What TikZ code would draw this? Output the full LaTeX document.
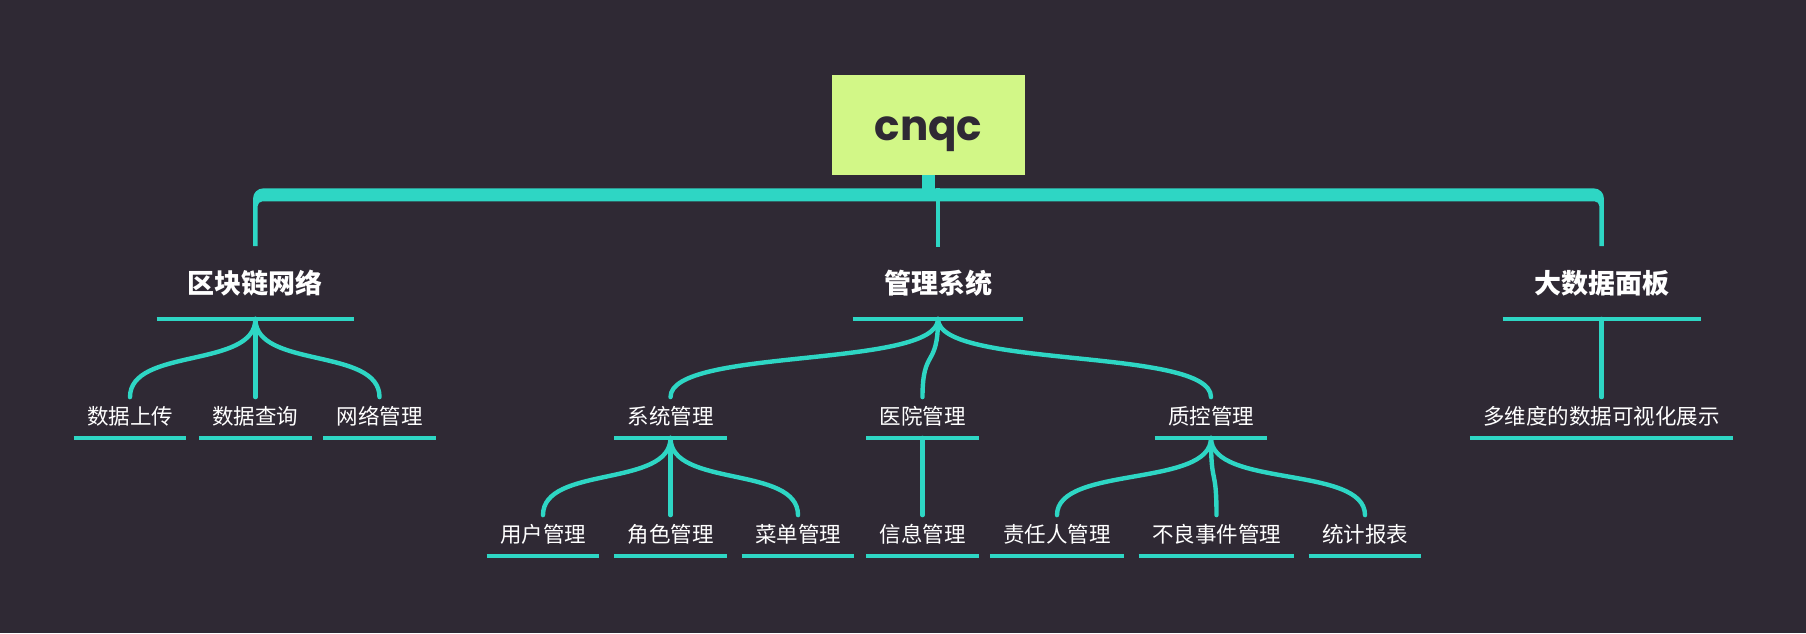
\documentclass[tikz,border=0pt]{standalone}
\usepackage{fontspec}
\newfontfamily\cjk{Noto Sans CJK SC}
\newfontfamily\popb{Poppins}
\usetikzlibrary{calc}
\definecolor{bg}{RGB}{47,41,52}
\definecolor{tl}{RGB}{46,214,196}
\definecolor{lg}{RGB}{210,247,135}
\begin{document}
\begin{tikzpicture}[x=0.5pt,y=-0.5pt,
  conn/.style={draw=tl, line width=2.2pt, line cap=round},
  uline/.style={draw=tl, line width=2.4pt},
  lvA/.style={font=\cjk\bfseries\fontsize{13.5pt}{14pt}\selectfont, text=white, inner xsep=15.5pt, inner ysep=0pt, minimum height=35pt, text height=11.9pt, text depth=1.6pt},
  lvB/.style={font=\cjk\fontsize{10.75pt}{12pt}\selectfont, text=white, inner xsep=6.5pt, inner ysep=0pt, minimum height=21.5pt, text height=9.46pt, text depth=1.29pt},
  rootbox/.style={fill=lg, minimum width=96.5pt, minimum height=50pt, inner sep=0pt, text height=15pt, text depth=0pt, font=\popb\bfseries\fontsize{21pt}{22pt}\selectfont, text=bg}
]
\fill[bg] (0,0) rectangle (1806,633);
\useasboundingbox (0,0) rectangle (1806,633);

\node[rootbox] (root) at (928.5,125) {cnqc};

\node[lvA] (a) at (255.4,283.5) {区块链网络};
\node[lvA] (b) at (938,283.5) {管理系统};
\node[lvA] (c) at (1601.6,283.5) {大数据面板};

\node[lvB] (a1) at (130,416) {数据上传};
\node[lvB] (a2) at (255.4,416) {数据查询};
\node[lvB] (a3) at (379.5,416) {网络管理};
\node[lvB] (b1) at (670.5,416) {系统管理};
\node[lvB] (b2) at (922.5,416) {医院管理};
\node[lvB] (b3) at (1211,416) {质控管理};
\node[lvB] (c1) at (1601.6,416) {多维度的数据可视化展示};

\node[lvB] (b11) at (543,534) {用户管理};
\node[lvB] (b12) at (670.5,534) {角色管理};
\node[lvB] (b13) at (798,534) {菜单管理};
\node[lvB] (b21) at (922.5,534) {信息管理};
\node[lvB] (b31) at (1057,534) {责任人管理};
\node[lvB] (b32) at (1216.5,534) {不良事件管理};
\node[lvB] (b33) at (1365,534) {统计报表};

\foreach \n in {a,b,c,a1,a2,a3,b1,b2,b3,c1,b11,b12,b13,b21,b31,b32,b33}
  \draw[uline] (\n.south west) -- (\n.south east);

% trunk from root to the bar
\coordinate (bt) at ($(root.south)+(0,13)$);
\draw[tl, line width=6.5pt] (root.south) -- ($(root.south)+(0,20)$);
\fill[tl] let \p1=(a.north), \p2=(c.north), \p3=(bt) in
  ({\x1-1.15pt},{\y1+1pt}) -- ({\x1-1.15pt},{\y3-5pt})
  .. controls ({\x1-1.15pt},{\y3-2.24pt}) and ({\x1+1.09pt},{\y3}) .. ({\x1+3.85pt},{\y3})
  -- ({\x2-3.85pt},{\y3})
  .. controls ({\x2-1.09pt},{\y3}) and ({\x2+1.15pt},{\y3-2.24pt}) .. ({\x2+1.15pt},{\y3-5pt})
  -- ({\x2+1.15pt},{\y2+1pt}) -- ({\x2-1.15pt},{\y2+1pt}) -- ({\x2-1.15pt},{\y3-8.75pt})
  .. controls ({\x2-1.15pt},{\y3-7.51pt}) and ({\x2-2.16pt},{\y3-6.5pt}) .. ({\x2-3.4pt},{\y3-6.5pt})
  -- ({\x1+3.4pt},{\y3-6.5pt})
  .. controls ({\x1+2.16pt},{\y3-6.5pt}) and ({\x1+1.15pt},{\y3-7.51pt}) .. ({\x1+1.15pt},{\y3-8.75pt})
  -- ({\x1+1.15pt},{\y1+1pt}) -- cycle;
\draw[tl, line width=2.2pt] ($(b.north)+(0,-1)$) -- (b.north |- bt);

% branches
\foreach \p/\c in {a/a1,a/a2,a/a3,b/b1,b/b2,b/b3,c/c1,b1/b11,b1/b12,b1/b13,b2/b21,b3/b31,b3/b32,b3/b33}
  \draw[conn] (\p.south) .. controls +(0,50) and +(0,-50) .. ($(\c.north)+(0,3)$);
\end{tikzpicture}
\end{document}
